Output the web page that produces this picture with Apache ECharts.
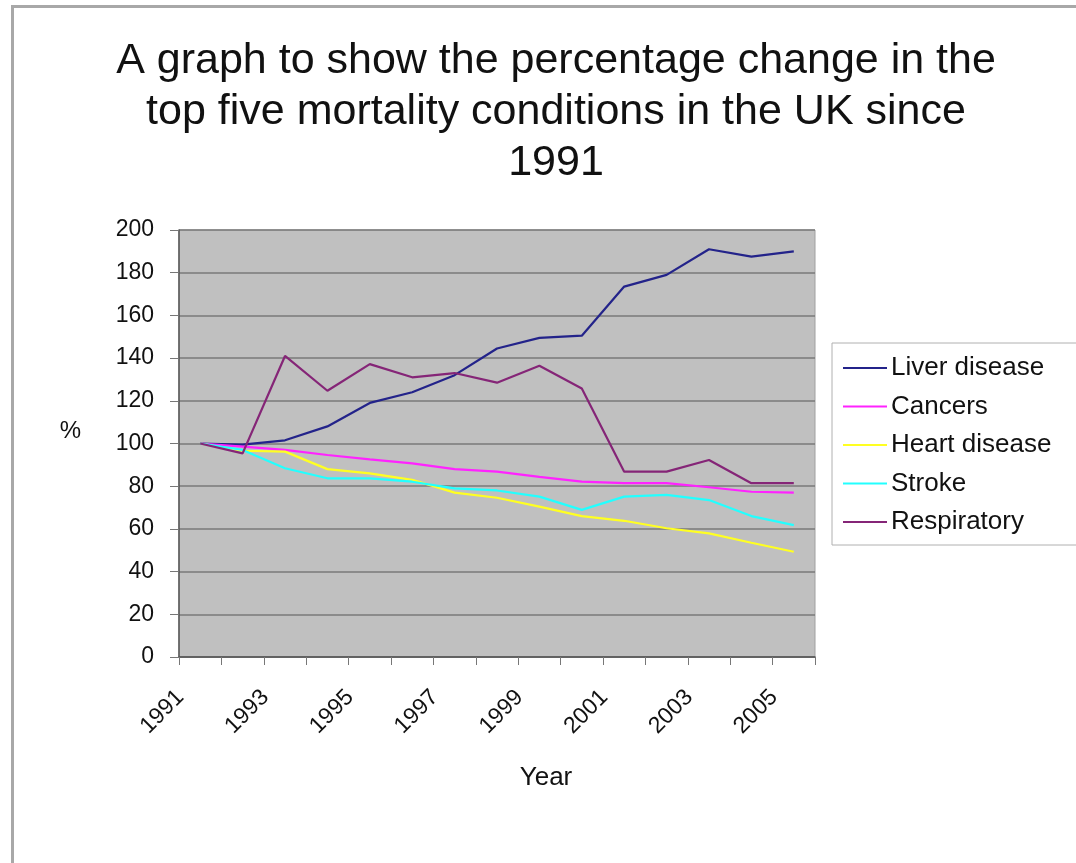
<!DOCTYPE html>
<html>
<head>
<meta charset="utf-8">
<script src="https://cdn.jsdelivr.net/npm/echarts@6/dist/echarts.min.js"></script>
<style>
html,body{margin:0;padding:0;background:#fff;}
#frame{position:absolute;left:11px;top:5px;width:1065px;height:858px;box-sizing:border-box;border-left:3px solid #a8a8a8;border-top:3px solid #a8a8a8;}
#chart{position:absolute;left:0;top:0;width:1076px;height:863px;}
</style>
</head>
<body>
<div id="frame"></div>
<div id="chart"></div>
<script>
const years = ['1991','1992','1993','1994','1995','1996','1997','1998','1999','2000','2001','2002','2003','2004','2005'];
const liver = [100, 99.5, 101.5, 108, 119, 124, 132, 144.5, 149.5, 150.5, 173.5, 179, 191, 187.5, 190];
const cancers = [100, 98.5, 97, 94.6, 92.6, 90.7, 88, 86.8, 84.4, 82.1, 81.4, 81.4, 79.5, 77.4, 77];
const heart = [100, 96.6, 96.2, 88, 86, 83, 77, 74.6, 70.4, 66, 63.8, 60.3, 57.9, 53.5, 49.3];
const stroke = [100, 97, 88.4, 83.7, 83.7, 82.1, 79, 78, 75.1, 68.9, 75.1, 75.9, 73.5, 66, 61.8];
const respiratory = [100, 95.4, 141, 124.7, 137.2, 131, 133, 128.5, 136.4, 125.8, 86.8, 86.8, 92.3, 81.4, 81.4];
const yTicks = [0, 20, 40, 60, 80, 100, 120, 140, 160, 180, 200];

const seriesDefs = [
  {name: 'Liver disease', data: liver, color: '#23238a'},
  {name: 'Cancers', data: cancers, color: '#ff22ff'},
  {name: 'Heart disease', data: heart, color: '#ffff22'},
  {name: 'Stroke', data: stroke, color: '#22ffff'},
  {name: 'Respiratory', data: respiratory, color: '#852577'}
];

const font = '"Liberation Sans", Arial, sans-serif';
const chart = echarts.init(document.getElementById('chart'));
chart.setOption({
  animation: false,
  backgroundColor: 'transparent',
  title: {
    text: 'A graph to show the percentage change in the\ntop five mortality conditions in the UK since\n1991',
    left: 551,
    textAlign: 'center',
    top: 31,
    textStyle: {fontFamily: font, fontSize: 43, fontWeight: 'normal', color: '#111', lineHeight: 51}
  },
  legend: {
    orient: 'vertical',
    left: 832,
    top: 343,
    padding: [12, 30, 10, 11],
    backgroundColor: '#fff',
    borderColor: '#b0b0b0',
    borderWidth: 1,
    icon: 'rect',
    itemWidth: 44,
    itemHeight: 2,
    itemGap: 12.5,
    textStyle: {fontFamily: font, fontSize: 26, color: '#111', padding: [0, 0, 0, -1]},
    data: seriesDefs.map(s => s.name)
  },
  grid: {
    left: 179, right: 261, top: 230, bottom: 206,
    show: true, backgroundColor: '#c0c0c0', borderColor: '#a0a0a0', borderWidth: 1
  },
  xAxis: {
    type: 'category',
    data: years,
    boundaryGap: true,
    name: 'Year',
    nameLocation: 'middle',
    nameGap: 108,
    nameTextStyle: {fontFamily: font, fontSize: 26, color: '#111', padding: [0, 0, 0, 98]},
    axisLine: {lineStyle: {color: '#555', width: 1.5}},
    axisTick: {show: true, interval: 0, length: 8, lineStyle: {color: '#777'}},
    axisLabel: {interval: 1, rotate: 45, fontFamily: font, fontSize: 23, color: '#111', margin: 17, padding: [0, 28, 0, 0]}
  },
  yAxis: {
    type: 'value',
    min: 0, max: 200, interval: 20,
    name: '%',
    nameLocation: 'middle',
    nameRotate: 0,
    nameGap: 98,
    nameTextStyle: {fontFamily: font, fontSize: 24, color: '#111', verticalAlign: 'bottom'},
    axisLine: {show: true, lineStyle: {color: '#555', width: 1.5}},
    axisTick: {show: true, length: 9, lineStyle: {color: '#777'}},
    axisLabel: {fontFamily: font, fontSize: 23, color: '#111', margin: 25,
      formatter: v => yTicks.includes(v) ? String(v) : ''},
    splitLine: {lineStyle: {color: '#7a7a7a', width: 1.5}}
  },
  series: seriesDefs.map(s => ({
    name: s.name,
    type: 'line',
    data: s.data,
    symbol: 'none',
    color: s.color,
    lineStyle: {color: s.color, width: 2.2}
  }))
});
</script>
</body>
</html>
